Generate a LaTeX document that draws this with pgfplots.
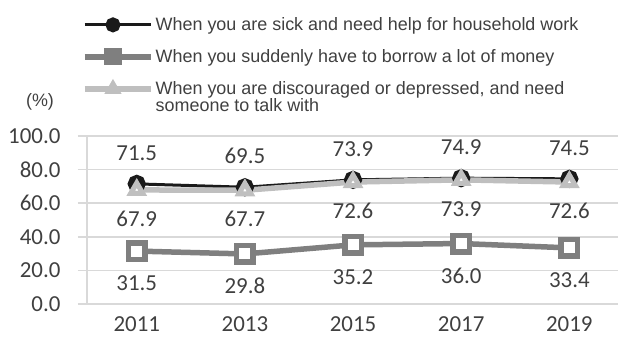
\documentclass[border=0pt]{standalone}
\usepackage{pgfplots}
\pgfplotsset{compat=1.18}
\usepackage{fontspec}
\setmainfont{Carlito}
\newfontfamily\legfont{Liberation Sans}
\definecolor{cblack}{HTML}{1A1A1A}
\definecolor{cgray}{HTML}{7F7F7F}
\definecolor{clight}{HTML}{BFBFBF}
\definecolor{cgrid}{HTML}{D9D9D9}
\definecolor{ctext}{HTML}{404040}
\begin{document}
\begin{tikzpicture}[x=1bp,y=1bp]
\useasboundingbox (0,0) rectangle (618,336);
\begin{axis}[
  at={(87bp,32bp)}, anchor=south west,
  scale only axis, width=531bp, height=168bp,
  xmin=-0.46, xmax=4.45, ymin=0, ymax=100,
  axis lines=left, axis line style={-, draw=cgrid, line width=1.5bp},
  xtick={0,1,2,3,4}, xticklabels={2011,2013,2015,2017,2019},
  ytick={0,20,40,60,80,100},
  ymajorgrids, grid style={draw=cgrid, line width=1.5bp},
  tick align=outside, major tick length=9bp,
  xtick style={draw=none}, ytick style={draw=cgrid, line width=1.5bp},
  /pgf/number format/assume math mode=true,
  yticklabel={\pgfmathprintnumber[fixed,fixed zerofill,precision=1]{\tick}},
  tick label style={font=\fontsize{23}{26}\selectfont, text=ctext},
  yticklabel style={xshift=-14bp},
  clip=false,
  nodes near coords={\pgfmathprintnumber[fixed,fixed zerofill,precision=1]{\pgfplotspointmeta}},
  legend style={draw=none, fill=none, at={(-0.015,1.728)}, anchor=north west,
    font=\legfont\fontsize{18}{17}\selectfont, text=ctext,
    row sep=13.5bp, cells={anchor=base west}},
  legend image code/.code={\draw[mark repeat=2, mark phase=2, every mark/.append style={scale=0.7}, #1] plot coordinates {(0bp,6bp) (28bp,6bp) (56bp,6bp)};
    \path (0bp,6bp) -- (66bp,6bp);},
]
\addplot[cblack, line width=3bp, mark=*, mark size=5.5bp,
  mark options={fill=white, draw=cblack, line width=7bp},
  every node near coord/.append style={anchor=center, yshift=31bp, font=\fontsize{23}{26}\selectfont, text=ctext}]
  coordinates {(0,71.5) (1,69.5) (2,73.9) (3,74.9) (4,74.5)};
\addlegendentry{When you are sick and need help for household work}
\addplot[cgray, line width=5.5bp, mark=square*, mark size=8.25bp,
  mark options={fill=white, draw=cgray, line width=5.5bp},
  every node near coord/.append style={anchor=center, yshift=-32bp, font=\fontsize{23}{26}\selectfont, text=ctext}]
  coordinates {(0,31.5) (1,29.8) (2,35.2) (3,36.0) (4,33.4)};
\addlegendentry{When you suddenly have to borrow a lot of money}
\addplot[clight, line width=5.5bp, mark=triangle*, mark size=7bp,
  mark options={fill=white, draw=clight, line width=5bp},
  every node near coord/.append style={anchor=center, yshift=-29bp, font=\fontsize{23}{26}\selectfont, text=ctext}]
  coordinates {(0,67.9) (1,67.7) (2,72.6) (3,73.9) (4,72.6)};
\addlegendentry{\vtop{\hbox{When you are discouraged or depressed, and need}\hbox{someone to talk with}}}
\end{axis}
\node[font=\legfont\fontsize{18}{20}\selectfont, text=ctext] at (40,234) {(\%)};
\end{tikzpicture}
\end{document}
